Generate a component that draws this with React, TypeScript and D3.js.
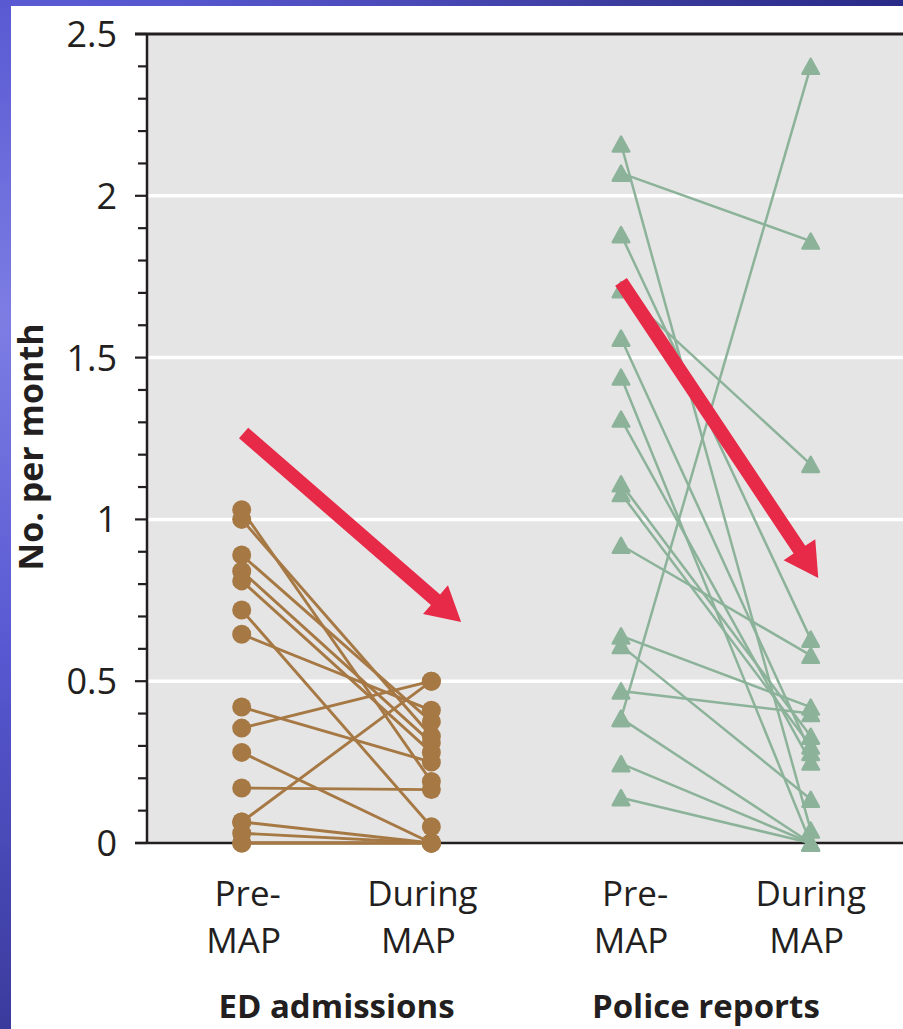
import React from 'react';
import * as d3 from 'd3';

// ---------- data ----------
const groupNames = ['ED admissions', 'Police reports'];
const periodLine1 = ['Pre-', 'During', 'Pre-', 'During'];
const periodLine2 = ['MAP', 'MAP', 'MAP', 'MAP'];
const yMajorTicks = [0, 0.5, 1, 1.5, 2, 2.5];
const yTickLabels = ['0', '0.5', '1', '1.5', '2', '2.5'];
const yGridValues = [0.5, 1, 1.5, 2];

// ED admissions, paired (pre -> during), per patient
const edPre = [1.03, 1.0, 0.89, 0.84, 0.81, 0.72, 0.645, 0.42, 0.355, 0.28, 0.17, 0.065, 0.065, 0.03, 0.0, 0.0];
const edDuring = [0.19, 0.33, 0.375, 0.31, 0.28, 0.05, 0.41, 0.25, 0.5, 0.0, 0.165, 0.5, 0.0, 0.0, 0.0, 0.0];

// Police reports, paired (pre -> during)
const policePre = [2.16, 2.07, 1.88, 1.71, 1.56, 1.44, 1.31, 1.11, 1.08, 0.92, 0.64, 0.61, 0.47, 0.385, 0.385, 0.245, 0.14];
const policeDuring = [0.04, 1.86, 0.63, 1.17, 0.28, 0.0, 0.25, 0.33, 0.3, 0.58, 0.42, 0.135, 0.4, 2.4, 0.0, 0.0, 0.0];

// annotation arrows: [x index, value] start and tip
const arrowStartX = [0.01, 2.0];
const arrowStartY = [1.267, 1.734];
const arrowEndX = [1.157, 3.04];
const arrowEndY = [0.683, 0.819];

// ---------- styles ----------
const W = 903;
const H = 1029;
const brown = '#a67844';
const green = '#8cb39a';
const red = '#e72a48';
const ink = '#231f20';
const font = '"Open Sans", "Noto Sans", sans-serif';

export default function App() {
  const y = d3.scaleLinear().domain([0, 2.5]).range([843, 34]);
  const x = d3.scaleLinear().domain([0, 3]).range([241.7, 810.7]);
  const axisX = 147;
  const plotRight = W;

  const minorTicks = d3.range(0, 2.5001, 0.1).map((v) => Math.round(v * 10) / 10);
  const tri = (w: number, h: number) => `M0,${-h / 2}L${w / 2},${h / 2}L${-w / 2},${h / 2}Z`;
  const labelDx = [6, -9, 14, 0];

  const arrowPath = (i: number) => {
    const x0 = x(arrowStartX[i]);
    const y0 = y(arrowStartY[i]);
    const x1 = x(arrowEndX[i]);
    const y1 = y(arrowEndY[i]);
    const dx = x1 - x0;
    const dy = y1 - y0;
    const len = Math.hypot(dx, dy);
    const ux = dx / len;
    const uy = dy / len;
    const px = -uy;
    const py = ux;
    const headLen = 34;
    const headW = 19;
    const shaftW = 7;
    const bx = x1 - ux * headLen;
    const by = y1 - uy * headLen;
    const pts = [
      [x0 + px * shaftW, y0 + py * shaftW],
      [bx + px * shaftW, by + py * shaftW],
      [bx + px * headW, by + py * headW],
      [x1, y1],
      [bx - px * headW, by - py * headW],
      [bx - px * shaftW, by - py * shaftW],
      [x0 - px * shaftW, y0 - py * shaftW],
    ];
    return 'M' + pts.map((p) => p.join(',')).join('L') + 'Z';
  };

  return (
    <svg
      width={W}
      height={H}
      style={{ position: 'absolute', left: 0, top: 0, display: 'block' }}
      fontFamily={font}
    >
      <defs>
        <radialGradient id="bg" cx="0" cy="320" r="1100" gradientUnits="userSpaceOnUse">
          <stop offset="0" stopColor="#7d7de4" />
          <stop offset="0.3" stopColor="#5858d2" />
          <stop offset="0.65" stopColor="#3a3a9c" />
          <stop offset="1" stopColor="#1f1f7c" />
        </radialGradient>
      </defs>
      <rect x={0} y={0} width={W} height={H} fill="url(#bg)" />
      <rect x={11} y={6} width={W - 11} height={H - 6} fill="#ffffff" />

      {/* plot background */}
      <rect x={axisX} y={y(2.5)} width={plotRight - axisX} height={y(0) - y(2.5)} fill="#e5e5e5" />
      {yGridValues.map((v) => (
        <line key={'g' + v} x1={axisX + 1} x2={plotRight} y1={y(v)} y2={y(v)} stroke="#ffffff" strokeWidth={3.5} />
      ))}

      {/* axes frame */}
      <line x1={axisX} x2={axisX} y1={y(2.5)} y2={y(0)} stroke={ink} strokeWidth={2.5} />
      <line x1={135} x2={plotRight} y1={y(2.5)} y2={y(2.5)} stroke={ink} strokeWidth={3} />
      <line x1={135} x2={plotRight} y1={y(0)} y2={y(0)} stroke={ink} strokeWidth={2.5} />
      {minorTicks.map((v) => (
        <line key={'t' + v} x1={yMajorTicks.includes(v) ? 135 : 138} x2={axisX} y1={y(v)} y2={y(v)} stroke={ink} strokeWidth={2.2} />
      ))}
      {yMajorTicks.map((v, i) => (
        <text key={'l' + v} x={117} y={y(v)} dy="0.36em" textAnchor="end" fontSize={36} fill={ink}>
          {yTickLabels[i]}
        </text>
      ))}
      <text
        transform={`translate(43,447) rotate(-90)`}
        textAnchor="middle"
        fontSize={34}
        fontWeight="bold"
        fill={ink}
      >
        No. per month
      </text>

      {/* ED admissions */}
      {edPre.map((v, i) => (
        <line key={'el' + i} x1={x(0)} y1={y(v)} x2={x(1)} y2={y(edDuring[i])} stroke={brown} strokeWidth={2.9} />
      ))}
      {edPre.map((v, i) => (
        <circle key={'ep' + i} cx={x(0)} cy={y(v)} r={9.5} fill={brown} />
      ))}
      {edDuring.map((v, i) => (
        <circle key={'ed' + i} cx={x(1)} cy={y(v)} r={9.5} fill={brown} />
      ))}

      {/* Police reports */}
      {policePre.map((v, i) => (
        <line key={'pl' + i} x1={x(2)} y1={y(v)} x2={x(3)} y2={y(policeDuring[i])} stroke={green} strokeWidth={2.5} />
      ))}
      {policePre.map((v, i) => (
        <path key={'pp' + i} transform={`translate(${x(2)},${y(v)})`} d={tri(16.5, 15)} fill={green} stroke={green} strokeWidth={2.5} strokeLinejoin="round" />
      ))}
      {policeDuring.map((v, i) => (
        <path key={'pd' + i} transform={`translate(${x(3)},${y(v)})`} d={tri(16.5, 15)} fill={green} stroke={green} strokeWidth={2.5} strokeLinejoin="round" />
      ))}

      {/* arrows */}
      {arrowStartX.map((_, i) => (
        <path key={'a' + i} d={arrowPath(i)} fill={red} />
      ))}

      {/* category labels */}
      {periodLine1.map((t, i) => (
        <g key={'c' + i}>
          <text x={x(i) + labelDx[i]} y={906} textAnchor="middle" fontSize={35} fill={ink}>
            {t}
          </text>
          <text x={x(i) + labelDx[i] - 4} y={953} textAnchor="middle" fontSize={35} fill={ink}>
            {periodLine2[i]}
          </text>
        </g>
      ))}
      {groupNames.map((g, i) => (
        <text key={'gn' + i} x={(x(i * 2) + x(i * 2 + 1)) / 2 + [0, -10][i]} y={1018} textAnchor="middle" fontSize={33} fontWeight="bold" fill={ink}>
          {g}
        </text>
      ))}
    </svg>
  );
}
